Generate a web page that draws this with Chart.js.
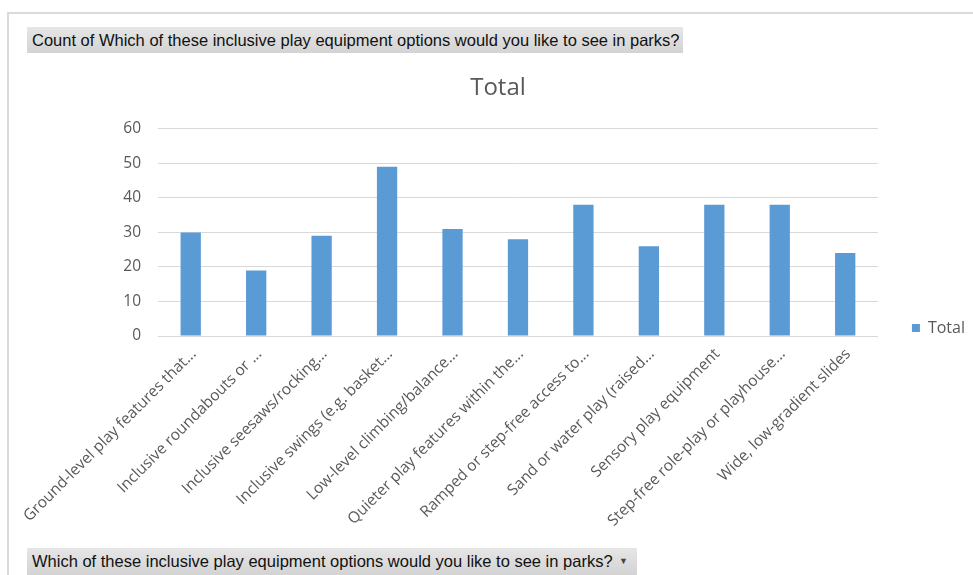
<!DOCTYPE html>
<html><head><meta charset="utf-8">
<script src="https://cdn.jsdelivr.net/npm/chart.js@4/dist/chart.umd.min.js"></script>
<style>
html,body{margin:0;padding:0;width:973px;height:575px;overflow:hidden;background:#fff;}
#wrap{position:absolute;left:0;top:0;width:975px;height:596px;}
.frameTop{position:absolute;left:7px;top:12px;width:966px;height:2px;background:#dadada;}
.frameLeft{position:absolute;left:7px;top:12px;width:2px;height:563px;background:#dadada;}
.lbl{position:absolute;left:27px;height:26px;background:linear-gradient(#e6e6e6,#d3d3d3);font-family:"Liberation Sans Narrow","Liberation Sans",sans-serif;font-size:16.5px;color:#111;white-space:nowrap;line-height:26px;padding-left:5px;box-sizing:border-box;}
#top{top:27px;width:656px;}
#bot{top:548px;width:610px;height:27px;}
#arrow{position:absolute;left:592px;top:0;font-size:9px;color:#444;}
</style></head>
<body>
<div id="wrap"><canvas id="c" width="975" height="596"></canvas></div>
<div class="frameTop"></div><div class="frameLeft"></div>
<div class="lbl" id="top"></div>
<div class="lbl" id="bot"><span id="botText"></span><span id="arrow">&#9660;</span></div>
<script>
const categories = [
  'Ground-level play features that...',
  'Inclusive roundabouts or ...',
  'Inclusive seesaws/rocking...',
  'Inclusive swings (e.g. basket...',
  'Low-level climbing/balance...',
  'Quieter play features within the...',
  'Ramped or step-free access to...',
  'Sand or water play (raised...',
  'Sensory play equipment',
  'Step-free role-play or playhouse...',
  'Wide, low-gradient slides'
];
const totals = [30, 19, 29, 49, 31, 28, 38, 26, 38, 38, 24];
const yTicks = [0, 10, 20, 30, 40, 50, 60];
const seriesName = 'Total';
const chartTitle = 'Total';
const topLabel = 'Count of Which of these inclusive play equipment options would you like to see in parks?';
const bottomLabel = 'Which of these inclusive play equipment options would you like to see in parks?';

document.getElementById('top').textContent = topLabel;
document.getElementById('botText').textContent = bottomLabel;

Chart.defaults.font.family = "'Open Sans', sans-serif";
const grey = '#595959';

new Chart(document.getElementById('c'), {
  type: 'bar',
  data: {
    labels: categories,
    datasets: [{
      label: seriesName,
      data: totals,
      backgroundColor: '#5b9bd5',
      categoryPercentage: 1,
      barPercentage: 0.31
    }]
  },
  options: {
    responsive: false,
    animation: false,
    layout: { padding: { top: 60, left: 21, right: 0, bottom: 0 } },
    plugins: {
      title: { display: true, text: chartTitle, color: grey,
        font: { size: 24, weight: 'normal' }, padding: { top: 14, bottom: 26 } },
      legend: { position: 'right', align: 'center', fullSize: true,
        labels: { boxWidth: 8, boxHeight: 8, color: grey, font: { size: 16 }, padding: 34 } },
      tooltip: { enabled: false }
    },
    scales: {
      x: {
        grid: { display: false, drawTicks: false },
        border: { color: '#d9d9d9' },
        ticks: { minRotation: 45, maxRotation: 45, autoSkip: false, color: grey,
          font: { size: 15.5 }, padding: 9, labelOffset: 3 },
        afterFit: s => { s.height = 260; }
      },
      y: {
        min: 0, max: 60,
        grid: { color: '#d9d9d9', drawTicks: false },
        border: { display: false },
        ticks: { stepSize: 10, color: grey, font: { size: 15.5 }, padding: 17 },
        afterBuildTicks: s => { s.ticks = yTicks.map(v => ({ value: v })); },
        afterFit: s => { s.width = 137; }
      }
    }
  }
});
</script>
</body></html>
